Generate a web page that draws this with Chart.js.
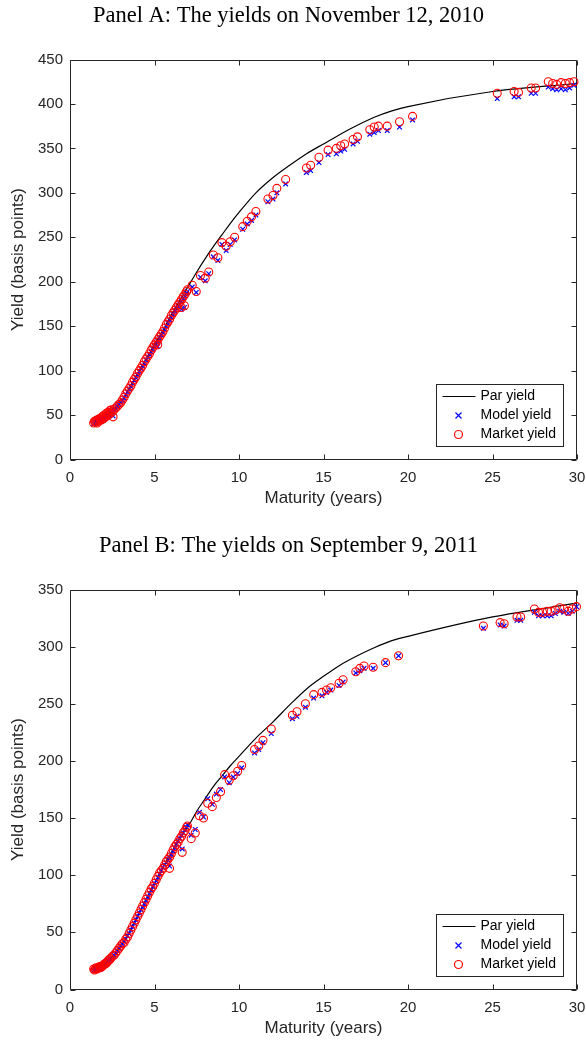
<!DOCTYPE html>
<html>
<head>
<meta charset="utf-8">
<script src="https://cdn.jsdelivr.net/npm/chart.js@4/dist/chart.umd.min.js"></script>
<style>
  html, body { margin: 0; padding: 0; background: #fff; overflow: hidden; }
  .panel { position: absolute; left: 0; width: 586px; height: 512px; }
  #wrapA { top: 0; }
  #wrapB { top: 530px; }
</style>
</head>
<body>
<div class="panel" id="wrapA"><canvas id="chartA" width="586" height="512"></canvas></div>
<div class="panel" id="wrapB"><canvas id="chartB" width="586" height="512"></canvas></div>
<script>
// tick labels
const xTicks = [0, 5, 10, 15, 20, 25, 30]
const yTicksA = [0, 50, 100, 150, 200, 250, 300, 350, 400, 450]
const yTicksB = [0, 50, 100, 150, 200, 250, 300, 350]

// Panel A : November 12, 2010
const maturityA = [
  1.40, 1.45, 1.50, 1.55, 1.60, 1.65, 1.70, 1.75, 1.80, 1.85,
  1.90, 1.95, 2.00, 2.05, 2.10, 2.15, 2.20, 2.25, 2.30, 2.35,
  2.40, 2.45, 2.50, 2.55, 2.60, 2.70, 2.80, 2.90, 3.00, 3.10,
  3.20, 3.30, 3.40, 3.50, 3.60, 3.70, 3.80, 3.90, 4.00, 4.10,
  4.20, 4.30, 4.40, 4.50, 4.60, 4.70, 4.80, 4.90, 5.00, 5.10,
  5.19, 5.20, 5.30, 5.40, 5.50, 5.60, 5.70, 5.80, 5.90, 6.00,
  6.10, 6.20, 6.30, 6.40, 6.50, 6.58, 6.60, 6.70, 6.77, 6.80,
  6.90, 6.95, 7.23, 7.47, 7.72, 8.00, 8.21, 8.48, 8.75, 8.99,
  9.24, 9.48, 9.74, 10.22, 10.49, 10.74, 11.00, 11.71, 12.01, 12.24,
  12.76, 13.99, 14.24, 14.73, 15.27, 15.76, 16.02, 16.25, 16.75, 17.01,
  17.74, 18.00, 18.25, 18.77, 19.50, 20.27, 25.28, 26.28, 26.54, 27.29,
  27.55, 28.30, 28.56, 28.80, 29.06, 29.31, 29.56, 29.82
]
const marketA = [
  41, 43, 42, 44, 41, 45, 43, 46, 44, 47,
  45, 49, 46, 50, 48, 52, 49, 53, 51, 55,
  52, 56, 54, 48, 56, 58, 60, 62, 64, 67,
  70, 74, 77, 80, 83, 87, 90, 93, 97, 100,
  103, 106, 110, 113, 116, 119, 123, 126, 129, 132,
  129, 135, 138, 141, 144, 148, 152, 155, 158, 162,
  165, 168, 171, 174, 177, 171, 180, 183, 173, 186,
  189, 191, 196, 189, 207, 204, 211, 230, 227, 244,
  240, 245, 250, 262, 268, 273, 279, 293, 297, 305,
  315, 328, 331, 340, 348, 350, 353, 355, 360, 363,
  371, 374, 375, 375, 380, 386, 412, 414, 413, 418,
  418, 425, 423, 422, 424, 423, 424, 425
]
const modelA = [
  40, 41, 42, 43, 41, 44, 43, 45, 44, 46,
  45, 47, 46, 49, 47, 50, 49, 52, 50, 53,
  52, 55, 53, 49, 56, 57, 60, 62, 64, 66,
  69, 73, 76, 79, 82, 86, 89, 92, 95, 99,
  102, 105, 108, 112, 115, 118, 121, 124, 127, 130,
  127, 133, 136, 140, 143, 146, 150, 153, 157, 160,
  163, 167, 170, 172, 175, 169, 178, 181, 171, 184,
  187, 189, 194, 188, 205, 201, 209, 228, 224, 242,
  235, 242, 247, 259, 265, 269, 275, 290, 293, 300,
  310, 323, 325, 334, 343, 344, 347, 349, 355, 358,
  366, 368, 370, 370, 374, 382, 406, 408, 408, 412,
  412, 419, 417, 416, 417, 416, 418, 421
]
const parMaturityA = [1.4, 2, 2.5, 3, 3.5, 4, 4.5, 5, 5.5, 6, 6.5, 7, 7.5, 8, 8.5, 9, 9.5, 10, 11, 12, 13, 14, 15, 16, 17, 18, 19, 20, 25, 30]
const parA = [43, 48, 54, 64, 80, 97, 113, 129, 145, 163, 179, 195, 211, 226, 240, 253, 266, 278, 300, 317, 331, 344, 355, 366, 376, 385, 392, 397, 414, 423]

// Panel B : September 9, 2011
const maturityB = [
  1.40, 1.45, 1.50, 1.55, 1.60, 1.65, 1.70, 1.75, 1.80, 1.85,
  1.90, 1.95, 2.00, 2.05, 2.10, 2.15, 2.20, 2.25, 2.30, 2.35,
  2.40, 2.50, 2.60, 2.70, 2.80, 2.90, 3.00, 3.10, 3.20, 3.30,
  3.40, 3.50, 3.60, 3.70, 3.80, 3.90, 4.00, 4.10, 4.20, 4.30,
  4.40, 4.50, 4.60, 4.70, 4.80, 4.90, 5.00, 5.10, 5.20, 5.30,
  5.40, 5.50, 5.60, 5.70, 5.80, 5.89, 5.90, 6.00, 6.10, 6.20,
  6.30, 6.40, 6.50, 6.60, 6.64, 6.70, 6.80, 6.90, 6.95, 7.17,
  7.41, 7.66, 7.90, 8.15, 8.42, 8.66, 8.91, 9.15, 9.42, 9.66,
  9.92, 10.16, 10.92, 11.17, 11.42, 11.91, 13.16, 13.43, 13.93, 14.42,
  14.91, 15.18, 15.43, 15.92, 16.16, 16.91, 17.15, 17.40, 17.94, 18.67,
  19.44, 24.46, 25.45, 25.69, 26.45, 26.67, 27.48, 27.72, 27.97, 28.24,
  28.47, 28.72, 28.98, 29.22, 29.48, 29.72, 29.97
]
const marketB = [
  18, 17, 18, 19, 18, 19, 19, 20, 19, 20,
  20, 21, 22, 22, 23, 23, 24, 25, 26, 26,
  27, 29, 30, 32, 34, 36, 38, 40, 41, 44,
  46, 49, 52, 55, 58, 61, 64, 67, 70, 73,
  76, 79, 82, 85, 88, 90, 93, 96, 99, 102,
  104, 106, 109, 112, 114, 106, 116, 119, 122, 125,
  127, 129, 132, 134, 120, 137, 139, 142, 143, 132,
  137, 152, 150, 163, 160, 168, 173, 188, 183, 187,
  191, 196, 210, 213, 218, 228, 240, 243, 250, 258,
  260, 262, 264, 268, 271, 278, 281, 283, 282, 286,
  292, 318, 321, 320, 326, 326, 333, 330, 330, 331,
  331, 332, 334, 333, 331, 333, 335
]
const modelB = [
  17, 17, 18, 18, 18, 19, 19, 19, 19, 20,
  20, 21, 21, 22, 23, 23, 24, 25, 25, 26,
  27, 28, 30, 32, 34, 36, 38, 40, 42, 44,
  47, 49, 52, 55, 58, 61, 64, 67, 70, 72,
  75, 78, 81, 84, 87, 90, 93, 95, 98, 101,
  104, 107, 109, 111, 113, 108, 115, 118, 121, 124,
  127, 130, 132, 135, 123, 137, 140, 142, 144, 135,
  140, 155, 151, 167, 162, 171, 175, 186, 181, 186,
  189, 194, 207, 210, 216, 224, 237, 239, 247, 255,
  257, 260, 262, 266, 269, 277, 279, 281, 281, 286,
  292, 316, 319, 318, 323, 323, 330, 327, 327, 327,
  327, 329, 331, 330, 329, 331, 335
]
const parMaturityB = [1.4, 2, 2.5, 3, 3.5, 4, 4.5, 5, 5.5, 6, 6.5, 7, 7.5, 8, 8.5, 9, 9.5, 10, 11, 12, 13, 14, 15, 16, 17, 18, 19, 20, 25, 30]
const parB = [18, 21, 27, 37, 50, 64, 79, 93, 107, 120, 133, 143, 156, 167, 178, 187, 196, 204, 220, 234, 249, 263, 274, 284, 292, 299, 305, 309, 326, 338]

const axisColor = '#262626'
const sans = 'Liberation Sans'

function toPoints(xs, ys) {
  let pts = []
  xs.forEach(function (x, i) {
    pts.push({ x: x, y: ys[i] })
  })
  return pts
}

// boite + graduations vers l'interieur (style matlab)
const boxTicks = {
  id: 'boxTicks',
  beforeDatasetsDraw(chart) {
    const { ctx, chartArea: a, scales } = chart
    const L = Math.round(a.left) + 0.5, R = Math.round(a.right) - 0.5
    const T = Math.round(a.top) + 0.5, B = Math.round(a.bottom) - 0.5
    ctx.save()
    ctx.strokeStyle = axisColor
    ctx.lineWidth = 1
    ctx.beginPath()
    ctx.rect(L, T, R - L, B - T)
    scales.x.ticks.forEach(function (t) {
      const px = Math.round(scales.x.getPixelForValue(t.value)) + 0.5
      ctx.moveTo(px, B); ctx.lineTo(px, B - 5)
      ctx.moveTo(px, T); ctx.lineTo(px, T + 5)
    })
    scales.y.ticks.forEach(function (t) {
      const py = Math.round(scales.y.getPixelForValue(t.value)) + 0.5
      ctx.moveTo(L, py); ctx.lineTo(L + 5, py)
      ctx.moveTo(R, py); ctx.lineTo(R - 5, py)
    })
    ctx.stroke()
    ctx.restore()
  }
}

// legende dans le coin bas droit
const boxLegend = {
  id: 'boxLegend',
  afterDraw(chart) {
    const { ctx, chartArea: a } = chart
    const w = 127, h = 62
    const x0 = Math.round(a.right - 14 - w) + 0.5
    const y0 = Math.round(a.bottom - 14 - h) + 0.5
    ctx.save()
    ctx.fillStyle = '#fff'
    ctx.fillRect(x0, y0, w, h)
    ctx.strokeStyle = axisColor
    ctx.lineWidth = 1
    ctx.strokeRect(x0, y0, w, h)
    const rows = [y0 + 12, y0 + 31, y0 + 50]
    const mx = x0 + 22
    // par yield
    ctx.strokeStyle = '#000'
    ctx.lineWidth = 1.2
    ctx.beginPath()
    ctx.moveTo(x0 + 6, rows[0]); ctx.lineTo(x0 + 39, rows[0])
    ctx.stroke()
    // model yield
    ctx.strokeStyle = '#0000ff'
    ctx.lineWidth = 1.2
    ctx.beginPath()
    ctx.moveTo(mx - 3, rows[1] - 3); ctx.lineTo(mx + 3, rows[1] + 3)
    ctx.moveTo(mx + 3, rows[1] - 3); ctx.lineTo(mx - 3, rows[1] + 3)
    ctx.stroke()
    // market yield
    ctx.strokeStyle = '#ff0000'
    ctx.beginPath()
    ctx.arc(mx, rows[2], 4, 0, Math.PI * 2)
    ctx.stroke()
    ctx.fillStyle = '#000'
    ctx.font = '14px "' + sans + '"'
    ctx.textBaseline = 'middle'
    chart.data.datasets.forEach(function (ds, i) {
      ctx.fillText(ds.label, x0 + 44, rows[i])
    })
    ctx.restore()
  }
}

function makeChart(id, titleText, mat, market, model, parMat, par, yTicks) {
  return new Chart(document.getElementById(id), {
    type: 'scatter',
    data: {
      datasets: [
        {
          label: 'Par yield',
          data: toPoints(parMat, par),
          showLine: true,
          borderColor: '#000',
          borderWidth: 1.2,
          pointRadius: 0,
          cubicInterpolationMode: 'monotone',
          order: 3
        },
        {
          label: 'Model yield',
          data: toPoints(mat, model),
          pointStyle: 'crossRot',
          pointRadius: 3.3,
          borderColor: '#0000ff',
          borderWidth: 1.2,
          clip: false,
          order: 2
        },
        {
          label: 'Market yield',
          data: toPoints(mat, market),
          pointStyle: 'circle',
          pointRadius: 4,
          borderColor: '#ff0000',
          backgroundColor: 'rgba(0,0,0,0)',
          borderWidth: 1.1,
          clip: false,
          order: 1
        }
      ]
    },
    options: {
      responsive: false,
      animation: false,
      layout: { padding: { left: 0, right: 9, top: 0, bottom: 0 } },
      plugins: {
        legend: { display: false },
        tooltip: { enabled: false },
        title: {
          display: true,
          text: titleText,
          color: '#000',
          font: { family: 'Liberation Serif', size: 22.5, weight: 'normal' },
          padding: { top: 3, bottom: 29.5 }
        }
      },
      scales: {
        x: {
          type: 'linear',
          min: xTicks[0],
          max: xTicks[xTicks.length - 1],
          afterBuildTicks: function (s) { s.ticks = xTicks.map(v => ({ value: v })) },
          afterFit: function (s) { s.height = 52.5; s.paddingLeft = 0; s.paddingRight = 0 },
          grid: { display: false, drawTicks: false },
          border: { display: false },
          ticks: { color: axisColor, font: { family: sans, size: 15 }, padding: 9 },
          title: {
            display: true,
            text: 'Maturity (years)',
            color: axisColor,
            font: { family: sans, size: 17 },
            padding: { top: 0, bottom: 3 }
          }
        },
        y: {
          type: 'linear',
          min: yTicks[0],
          max: yTicks[yTicks.length - 1],
          afterBuildTicks: function (s) { s.ticks = yTicks.map(v => ({ value: v })) },
          afterFit: function (s) { s.width = 70; s.paddingTop = 0; s.paddingBottom = 0 },
          grid: { display: false, drawTicks: false },
          border: { display: false },
          ticks: { color: axisColor, font: { family: sans, size: 15 }, padding: 7 },
          title: {
            display: true,
            text: 'Yield (basis points)',
            color: axisColor,
            font: { family: sans, size: 17 },
            padding: { top: 8, bottom: 0 }
          }
        }
      }
    },
    plugins: [boxTicks, boxLegend]
  })
}

makeChart('chartA', 'Panel A: The yields on November 12, 2010', maturityA, marketA, modelA, parMaturityA, parA, yTicksA)
makeChart('chartB', 'Panel B: The yields on September 9, 2011', maturityB, marketB, modelB, parMaturityB, parB, yTicksB)
</script>
</body>
</html>
